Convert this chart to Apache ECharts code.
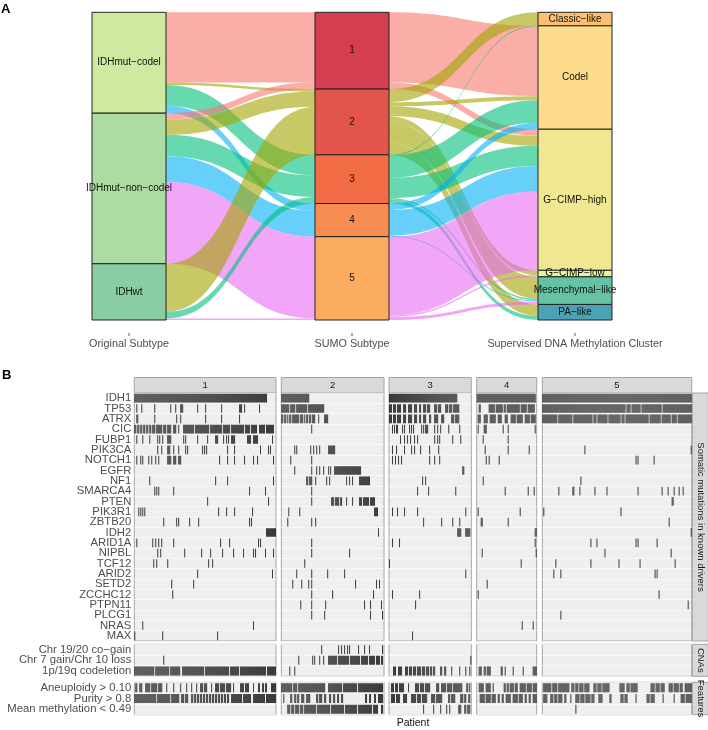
<!DOCTYPE html>
<html><head><meta charset="utf-8">
<script src="https://cdn.jsdelivr.net/npm/echarts@6/dist/echarts.min.js"></script>
<style>html,body{margin:0;padding:0;background:#fff}#c{width:708px;height:730px}</style>
</head><body><div id="c"></div>
<script>
// ---------------- Panel A data ----------------
const originalSubtypes = ['IDHmut−codel','IDHmut−non−codel','IDHwt'];
const sumoSubtypes = ['1','2','3','4','5'];
const methClusters = ['Classic−like','Codel','G−CIMP−high','G−CIMP−low','Mesenchymal−like','PA−like'];
// [source, target, patients]
const flowsOrigToSumo = [
  ['IDHmut−codel','1',140],['IDHmut−codel','2',5],['IDHmut−codel','3',41],['IDHmut−codel','4',15],
  ['IDHmut−non−codel','1',13],['IDHmut−non−codel','2',30],['IDHmut−non−codel','3',43],['IDHmut−non−codel','4',51],['IDHmut−non−codel','5',163],
  ['IDHwt','2',96],['IDHwt','3',13],['IDHwt','5',3]
];
const flowsSumoToMeth = [
  ['1','Codel',140],['1','G−CIMP−high',13],
  ['2','Classic−like',26],['2','Codel',8],['2','G−CIMP−high',20],['2','G−CIMP−low',10],['2','Mesenchymal−like',44],['2','PA−like',23],
  ['3','Classic−like',1],['3','Codel',45],['3','G−CIMP−high',40],['3','Mesenchymal−like',3],['3','PA−like',8],
  ['4','Codel',13],['4','G−CIMP−high',51],['4','Mesenchymal−like',2],
  ['5','G−CIMP−high',157],['5','G−CIMP−low',3],['5','Mesenchymal−like',6]
];
const axisTitlesA = ['Original Subtype','SUMO Subtype','Supervised DNA Methylation Cluster'];

// ---------------- Panel B data ----------------
const clusters = ['1','2','3','4','5'];
const nPatients = [142, 103, 82, 60, 149];
const genes = ['IDH1','TP53','ATRX','CIC','FUBP1','PIK3CA','NOTCH1','EGFR','NF1','SMARCA4','PTEN','PIK3R1','ZBTB20','IDH2','ARID1A','NIPBL','TCF12','ARID2','SETD2','ZCCHC12','PTPN11','PLCG1','NRAS','MAX'];
const cnaRows = ['Chr 19/20 co−gain','Chr 7 gain/Chr 10 loss','1p/19q codeletion'];
const featureRows = ['Aneuploidy > 0.10','Purity > 0.8','Mean methylation < 0.49'];
const groupTitles = ['Somatic mutations in known drivers','CNAs','Features'];

// mutated patient indices per gene (one string per gene, same order as genes)
const drivers1 = [
  '0-132',
  '2,7,20,36,41,46-48,63,71,87,105-107,110,125',
  '2-3,20,42,46,71,87,105',
  '0-1,3-4,6-7,9-10,12-13,15-16,18-20,22-27,29-31,33-36,39-41,44,49-59,61-74,76-87,89-95,97-109,111-115,117-122,125-130,132-139',
  '2,8,15,23,25,28,33-36,49,51,63,73,81-83,89,92,94,97-100,113-116,119-123,138',
  '23,27,33-35,39,44,51,53,68,70,72,93,100,126,134,136',
  '2,6,8,14,17,21,24,33-36,39-41,44-46,85,93,100,110,119,123,139',
  '',
  '15,81,93,139',
  '20,22,24,39,115,131',
  '73,134',
  '4,6,8,10,84,92,100,118',
  '29,42,44,55,64,115,117',
  '132-141',
  '2,18,21,24,27,39,86,95,124,126',
  '23,26,50,67,76,88,99,109,119,121,131,139',
  '19,22,33,74,78',
  '63,138',
  '37,59',
  '38',
  '',
  '',
  '8,119',
  '0,28,83'
];
const drivers2 = [
  '0-27',
  '0-7,9-13,15-25,27-42',
  '0-1,3-4,6,8-9,11-17,19-21,23,25-26,28-29,31-33,37,43-46',
  '30',
  '',
  '13,15,29,32,35,38,47-53',
  '9,30',
  '13,30,35,38,42,47,49,53-79',
  '25-26,28-30,34,45,48,65,68,71,78-88',
  '30',
  '30,50-52,54-57,59-60,65,71,78-80,82-87,89-93',
  '7,18,93-96',
  '6,30,34',
  '97',
  '30',
  '30,68',
  '23',
  '15,30,46,63',
  '11,20,27,30,74,95,98',
  '30,51,92',
  '19,30,44,83,89,100',
  '30,43,89,101',
  '',
  ''
];
const drivers3 = [
  '0-67',
  '0-2,4-6,8-11,14-16,19-22,25-27,30-31,34-36,38-40,45-47,49-51,56-58,60-62,64-69',
  '0-2,4-6,8-11,14-16,19-22,25-27,30-31,34-36,40-41,45-48,52-54,62-64,66-69',
  '3,5,7-8,13,15,20,22,24,32,34,36-38,45,48,51,59,70',
  '11,15,18,21,25,28,45,48,50,63,71',
  '3,7,15,22,25,31,40,49',
  '3,6,9,12,40,45,50',
  '73-74',
  '33,36',
  '28,39,66',
  '',
  '3,8,15,28,76',
  '34,52,63,70',
  '68-71,76-80',
  '3,10',
  '',
  '0',
  '76',
  '',
  '3,30',
  '26',
  '',
  '',
  '23'
];
const drivers4 = [
  '0-58',
  '2-3,12-17,19-25,27-28,30-42,44-49,51-57',
  '1-3,7-10,13-18,21-24,28-30,34-38,40-45,48-52,54-58',
  '1,7-9,26,31,58',
  '6,31',
  '8,31,52',
  '9,12,22',
  '',
  '6',
  '28,51,57',
  '',
  '1,43',
  '4-5,31',
  '58-59',
  '58',
  '5,59',
  '44',
  '',
  '10',
  '1',
  '',
  '',
  '45,56',
  ''
];
const drivers5 = [
  '0-148',
  '0-82,84-87,89-97,99-118,120-148',
  '0-14,16-29,31-49,51-53,55-64,66-77,79-81,83-105,107-117,119-127,129-133,135-148',
  '',
  '',
  '42,148',
  '93,95,111',
  '',
  '38',
  '16,30-31,37,52,64,95,119,125,131,136,140',
  '129-130',
  '1,78',
  '126',
  '148',
  '48,54,93,95,114',
  '62,128',
  '13,48,76,97,132',
  '11,18,112,114',
  '',
  '116',
  '145',
  '18',
  '',
  ''
];
const cna1 = ['', '29', '0-19,21-34,36-45,48-69,71-94,96-104,106-131,133-141'];
const cna2 = ['40,57,60,63,66,68,77,83,88,101', '17,31,33,38,42,47-55,57-67,69-78,80-86,88-93,95-98,100-101', '8,13'];
const cna3 = ['', '81', '4-6,9-12,16-18,20-22,24-26,28-31,33-35,37-39,41-42,44-45,51-52,55-56,62,70,76,80'];
const cna4 = ['', '', '2-4,7-8,10-13,24-25,28,36,46,56-59'];
const cna5 = ['', '', ''];
const feat1 = [
  '1-2,5-7,11-15,17-22,24-27,32,39,46,52,57,62,66-68,70-72,77,81-84,86-90,92-96,99,106-109,111-114,119,124-125,128-129,131-132,137-141',
  '0-21,23-35,37-44,47-49,51-53,57-58,60-61,63-64,66-67,69-70,72-73,75-76,78-79,81-82,84-85,87-88,90-91,93-94,97-107,109-116,119-130,132-141',
  ''
];
const feat2 = [
  '0-10,12-15,17-43,47-60,62-75,77-101',
  '2,9-10,13-14,16-17,20-22,25-28,35-36,38-40,43-44,48-49,52-53,56-57,60-61,84-85,88-89,93-94,97-101',
  '6-8,10-12,14-17,19-21,23-34,36-48,50-62,64-75,77-90,92-96,100-101'
];
const feat3 = [
  '2-4,6-8,10-14,19,26-29,31-34,36-40,47-49,52-56,58-62,64-72,77-78,80',
  '2-5,7-10,14-17,22-26,28-31,33-37,42-45,47-52,59-60,62-65,71-73,75-76,79-80',
  '34,44,51,57,60,69-71,75-76,78-80'
];
const feat4 = [
  '2-6,9-13,16,27-28,30-31,33-36,38-40,43-48,50-54,56-59',
  '3-7,9-13,15-18,21-22,25-26,29-33,36-40,42-45,48-49,52-53,56-59',
  ''
];
const feat5 = [
  '1-8,10-14,16-26,29-31,33-35,37-40,42-46,51-53,55-58,60-66,77-81,84-86,88-94,108-111,113-116,118-121,126-129,131-135,137-139,142-148',
  '1-4,8-10,12-14,16-19,22-23,28,33-36,38-41,43-47,49-51,56-59,67-68,78-80,82-84,93,104-106,108-111,120,131,138-141,143-148',
  '33'
];

// ---------------- styling / layout ----------------
const FONT = 'Liberation Sans, Arial, sans-serif';
const sumoColors = {'1':'#F8766D','2':'#A3A500','3':'#00BF7D','4':'#00B0F6','5':'#E76BF3'};
const nodeColors = {
  '1':'#D53E4F','2':'#E3554A','3':'#F26D45','4':'#F88D52','5':'#FCAC60',
  'Classic−like':'#FDC06E','Codel':'#FDDC8B','G−CIMP−high':'#EFE891','G−CIMP−low':'#E8F5A0',
  'IDHmut−codel':'#CDEAA0','IDHmut−non−codel':'#ADDCA3','IDHwt':'#8ACDA3',
  'Mesenchymal−like':'#66C2A5','PA−like':'#4BA2B4'
};
const panelX = [[134.3,141.7],[281.3,102.7],[389,82.3],[476.7,60],[542.3,149.4]];
const groupY = [[393,248],[644.3,32],[682.3,32.4]];

function parseIdx(s){
  const out=[]; if(!s) return out;
  s.split(',').forEach(t=>{ const p=t.split('-').map(Number); if(p.length===1) out.push(p[0]); else for(let i=p[0];i<=p[1];i++) out.push(i); });
  return out;
}

const chart = echarts.init(document.getElementById('c'), null, {renderer:'canvas'});

// sankey nodes/links
const nodes = [].concat(originalSubtypes, sumoSubtypes, methClusters).map(n=>({name:n, itemStyle:{color:nodeColors[n]}}));
const links = [];
flowsOrigToSumo.forEach(f=>links.push({source:f[0],target:f[1],value:f[2],lineStyle:{color:sumoColors[f[1]]}}));
flowsSumoToMeth.forEach(f=>links.push({source:f[0],target:f[1],value:f[2],lineStyle:{color:sumoColors[f[0]]}}));

const series = [{
  type:'sankey', left:92, top:12.3, right:96, bottom:410,
  nodeWidth:74, nodeGap:0, layoutIterations:0, draggable:false, silent:true,
  emphasis:{disabled:true},
  label:{position:'inside', color:'#111', fontSize:10, fontFamily:FONT},
  itemStyle:{borderColor:'#222', borderWidth:1},
  lineStyle:{curveness:0.5, opacity:0.6},
  data:nodes, links:links, animation:false
}];

const grids=[], xAxes=[], yAxes=[];
const groupRows = [genes, cnaRows, featureRows];
const groupData = [
  [drivers1,drivers2,drivers3,drivers4,drivers5],
  [cna1,cna2,cna3,cna4,cna5],
  [feat1,feat2,feat3,feat4,feat5]
];
function renderCell(params, api){
  const x=api.value(0), y=api.value(1);
  const p0=api.coord([x,y]), p1=api.coord([x+1,y]);
  const bh=api.size([0,1])[1];
  return {type:'rect', shape:{x:p0[0], y:p0[1]-bh*0.42, width:Math.max(p1[0]-p0[0],0.9), height:bh*0.84}, style:{fill:'#3a3a3a'}};
}
for(let g=0; g<3; g++){
  for(let c=0; c<5; c++){
    const gi = g*5+c;
    grids.push({left:panelX[c][0], top:groupY[g][0], width:panelX[c][1], height:groupY[g][1], show:true, backgroundColor:'#EFEFEF', borderColor:'#A5A5A5', borderWidth:1});
    xAxes.push({gridIndex:gi, type:'value', min:0, max:nPatients[c], show:false});
    yAxes.push({gridIndex:gi, type:'category', data:groupRows[g], inverse:true,
      axisLine:{show:false}, axisTick:{show:false},
      splitLine:{show:true, lineStyle:{color:'#F8F8F8', width:0.8}},
      axisLabel:{show:c===0, color:'#4D4D4D', fontSize:11.3, fontFamily:FONT, margin:3, interval:0}});
    const cells=[];
    groupData[g][c].forEach((s,r)=>parseIdx(s).forEach(i=>{ if(i<nPatients[c]) cells.push([i,r]); }));
    series.push({type:'custom', xAxisIndex:gi, yAxisIndex:gi, data:cells, renderItem:renderCell, silent:true, animation:false, clip:true});
  }
}

// decorations: strips, titles
const graphic = [];
graphic.push({type:'text', left:1, top:3, style:{text:'A', font:'bold 13px '+FONT, fill:'#000'}});
graphic.push({type:'text', left:2, top:369, style:{text:'B', font:'bold 13px '+FONT, fill:'#000'}});
const nodeCenters = [129, 352, 575];
axisTitlesA.forEach((t,i)=>{
  graphic.push({type:'line', shape:{x1:nodeCenters[i],y1:333,x2:nodeCenters[i],y2:336}, style:{stroke:'#333', lineWidth:0.8}});
  graphic.push({type:'text', x:nodeCenters[i], y:344, style:{text:t, font:'10.8px '+FONT, fill:'#4D4D4D', align:'center', verticalAlign:'middle'}});
});
clusters.forEach((cl,c)=>{
  graphic.push({type:'rect', shape:{x:panelX[c][0], y:377.5, width:panelX[c][1], height:15.5}, style:{fill:'#D9D9D9', stroke:'#A5A5A5', lineWidth:1}});
  graphic.push({type:'text', x:panelX[c][0]+panelX[c][1]/2, y:385.3, style:{text:cl, font:'9.5px '+FONT, fill:'#1A1A1A', align:'center', verticalAlign:'middle'}});
});
groupTitles.forEach((t,g)=>{
  graphic.push({type:'rect', shape:{x:692.3, y:groupY[g][0], width:16, height:groupY[g][1]}, style:{fill:'#D9D9D9', stroke:'#A5A5A5', lineWidth:1}});
  graphic.push({type:'text', x:700.5, y:groupY[g][0]+groupY[g][1]/2, rotation:-Math.PI/2, style:{text:t, font:'9.5px '+FONT, fill:'#1A1A1A', align:'center', verticalAlign:'middle'}});
});
graphic.push({type:'text', x:413, y:723, style:{text:'Patient', font:'10.5px '+FONT, fill:'#111', align:'center', verticalAlign:'middle'}});

chart.setOption({
  animation:false,
  textStyle:{fontFamily:FONT},
  grid:grids, xAxis:xAxes, yAxis:yAxes, series:series, graphic:graphic
});
</script></body></html>
